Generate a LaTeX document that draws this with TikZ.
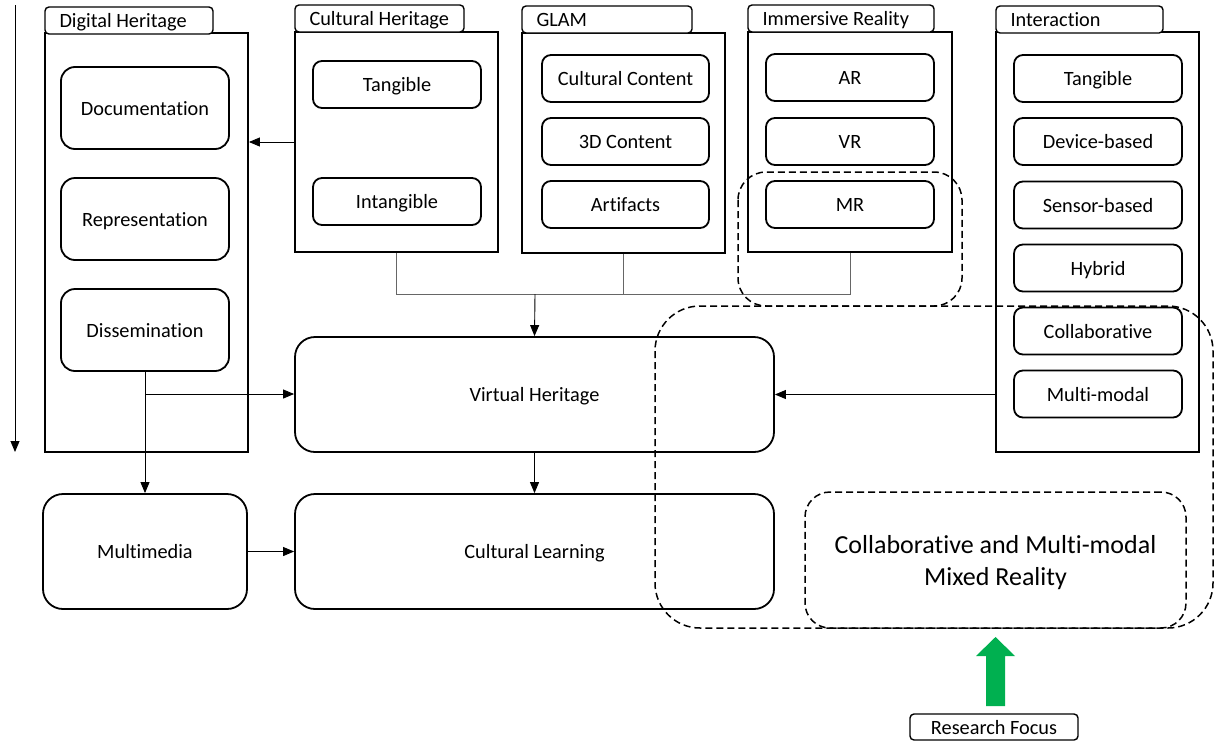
\documentclass[tikz,border=0pt]{standalone}
\usepackage{fontspec}
\setmainfont{Carlito}[Ligatures=NoCommon]
\usetikzlibrary{arrows.meta,calc}
\definecolor{focusgreen}{HTML}{00B050}
\begin{document}
\begin{tikzpicture}[x=1pt,y=-1pt,
  base/.style={font=\fontsize{20.3}{24}\selectfont, text=black,
    text height=16pt, text depth=2pt},
  panel/.style={draw, line width=1.8pt, minimum width=203pt, inner sep=0pt},
  tab/.style={draw, fill=white, line width=1.4pt, rounded corners=4pt,
    minimum height=27pt, inner sep=0pt},
  tabtext/.style={base, anchor=west, inner sep=0pt},
  item/.style={base, draw, line width=1.8pt, rounded corners=9pt,
    minimum width=168pt, minimum height=47pt, inner sep=0pt},
  bigitem/.style={base, draw, line width=1.8pt, rounded corners=20pt,
    minimum height=115pt, inner sep=0pt},
  link/.style={line width=0.9pt, draw=black!60},
  arr/.style={line width=0.9pt, -{Triangle[length=11pt,width=9pt]}},
  zone/.style={draw, line width=1.5pt, dash pattern=on 7pt off 4pt},
]
\useasboundingbox (0,0) rectangle (1225,742);

% timeline arrow on the left
\coordinate (lt) at (15,5);
\coordinate (lb) at (15,452);
\draw[arr] (lt) -- (lb);

% ---- Digital Heritage ----
\node[panel, minimum height=419pt] (dhp) at (146.5,242.5) {};
\node[tab, minimum width=168pt] (dht) at (129,20.5) {};
\node[tabtext] (dhl) at ([xshift=15pt]dht.west) {Digital Heritage};
\node[item, minimum height=82pt, rounded corners=14pt] (doc) at (145,108) {Documentation};
\node[item, minimum height=82pt, rounded corners=14pt] (rep) at (145,219) {Representation};
\node[item, minimum height=82pt, rounded corners=14pt] (dis) at (145,330) {Dissemination};

% ---- Cultural Heritage ----
\node[panel, minimum height=220pt] (chp) at (396.5,142) {};
\node[tab, minimum width=169pt] (cht) at (379.5,18.5) {};
\node[tabtext] (chl) at ([xshift=15pt]cht.west) {Cultural Heritage};
\node[item] (chtang) at (397,84.5) {Tangible};
\node[item] (chint) at (397,201.5) {Intangible};

% ---- GLAM ----
\node[panel, minimum height=220pt] (glp) at (623.5,143) {};
\node[tab, minimum width=170pt] (glt) at (607,19.5) {};
\node[tabtext] (gll) at ([xshift=15pt]glt.west) {GLAM};
\node[item, minimum width=167pt] (glcc) at (625.5,78.5) {Cultural Content};
\node[item, minimum width=167pt] (gl3d) at (625.5,141.5) {3D Content};
\node[item, minimum width=167pt] (glart) at (625.5,204.5) {Artifacts};

% ---- Immersive Reality ----
\node[panel, minimum width=204pt, minimum height=220pt] (irp) at (850,142) {};
\node[tab, minimum width=186pt] (irt) at (841,18.5) {};
\node[tabtext] (irl) at ([xshift=15pt]irt.west) {Immersive Reality};
\node[item] (ar) at (850,77.5) {AR};
\node[item] (vr) at (850,141.5) {VR};
\node[item] (mr) at (850,204.5) {MR};

% ---- Interaction ----
\node[panel, minimum height=420pt] (inp) at (1097.5,242) {};
\node[tab, minimum width=167pt] (intt) at (1079.5,19.5) {};
\node[tabtext] (intl) at ([xshift=15pt]intt.west) {Interaction};
\node[item] (itang) at (1098,78.5) {Tangible};
\node[item] (idev) at (1098,141.5) {Device-based};
\node[item] (isen) at (1098,205) {Sensor-based};
\node[item] (ihyb) at (1098,268) {Hybrid};
\node[item] (icol) at (1098,331) {Collaborative};
\node[item] (imm) at (1098,394) {Multi-modal};

% ---- lower row ----
\node[bigitem, minimum width=479pt] (vh) at (534.5,394.5) {Virtual Heritage};
\node[bigitem, minimum width=479pt] (cl) at (534.5,551.5) {Cultural Learning};
\node[bigitem, minimum width=204pt] (mm) at (145,551.5) {Multimedia};

% ---- connectors ----
\coordinate (jn) at (535,294);
\draw[link] (chp.south) |- (irp.south |- jn) -- (irp.south);
\draw[link] (glp.south) -- (glp.south |- jn);
\draw[arr] (jn) -- (vh.north);
\draw[arr] (chp.west) -- (chp.west -| dhp.east);
\draw[arr] (inp.west |- vh.east) -- (vh.east);
\draw[arr] (vh.south) -- (cl.north);
\coordinate (br) at (145,394);
\draw[arr] (dis.south) -- (mm.north);
\draw[arr] (br) -- (br -| vh.west);
\draw[arr] (mm.east) -- (cl.west);

% ---- highlighted zones ----
\draw[zone, rounded corners=28pt] (738,172) rectangle (962,306);
\draw[zone, rounded corners=45pt] (655,306) rectangle (1213,628);
\node[zone, rounded corners=25pt, minimum width=381pt, minimum height=136pt,
  inner sep=0pt] (cmmr) at (995.5,560) {};
\node[align=center, font=\fontsize{26}{32}\selectfont, inner sep=0pt]
  (cmmrtext) at (995.5,563) {Collaborative and Multi-modal\\Mixed Reality};

% ---- research focus ----
\node[base, draw, line width=1.4pt, rounded corners=4pt, minimum width=168pt,
  minimum height=26pt, inner sep=0pt] (rf) at (994,727) {Research Focus};
\fill[focusgreen] (986,706) -- (986,656) -- (976,656) -- (995.5,637)
  -- (1015,656) -- (1005,656) -- (1005,706) -- cycle;
\end{tikzpicture}
\end{document}
